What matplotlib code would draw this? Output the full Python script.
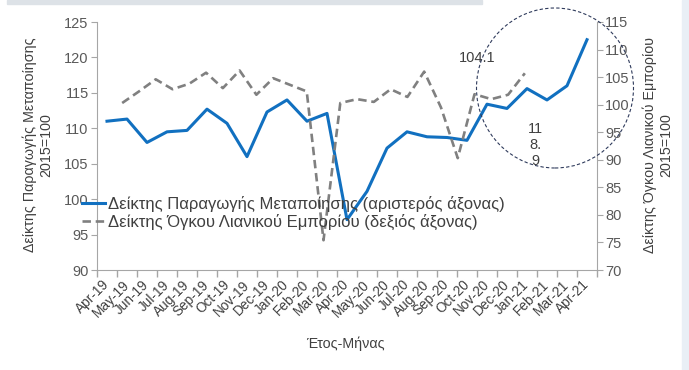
import numpy as np
import matplotlib.pyplot as plt
from matplotlib.patches import Ellipse, Rectangle

plt.rcParams['font.family'] = ['Liberation Sans', 'DejaVu Sans']

# κατηγορίες (μήνες)
months = ['Apr-19', 'May-19', 'Jun-19', 'Jul-19', 'Aug-19', 'Sep-19', 'Oct-19',
          'Nov-19', 'Dec-19', 'Jan-20', 'Feb-20', 'Mar-20', 'Apr-20', 'May-20',
          'Jun-20', 'Jul-20', 'Aug-20', 'Sep-20', 'Oct-20', 'Nov-20', 'Dec-20',
          'Jan-21', 'Feb-21', 'Mar-21', 'Apr-21']

# Δείκτης Παραγωγής Μεταποίησης (αριστερός άξονας)
manufacturing = [111.0, 111.3, 108.0, 109.5, 109.7, 112.7, 110.7, 106.0, 112.3,
                 114.0, 111.0, 112.1, 97.1, 101.1, 107.2, 109.5, 108.8, 108.7,
                 108.3, 113.4, 112.8, 115.6, 114.0, 116.0, 122.5]

# Δείκτης Όγκου Λιανικού Εμπορίου (δεξιός άξονας) - σε δευτερεύοντα άξονα κατηγοριών
retail = [np.nan, 100.3, 102.4, 104.6, 102.8, 103.8, 105.8, 103.0, 106.2, 101.8,
          104.8, 103.6, 102.4, 75.4, 100.3, 101.0, 100.5, 102.8, 101.4, 106.0,
          99.5, 90.3, 101.9, 101.0, 101.8, 105.7]

left_ticks = [90, 95, 100, 105, 110, 115, 120, 125]
right_ticks = [70, 75, 80, 85, 90, 95, 100, 105, 110, 115]

blue = '#1170c0'
grey = '#808080'
axis_col = '#a6a6a6'
txt_col = '#404040'

fig = plt.figure(figsize=(6.89, 3.70), dpi=100)
fig.patches.append(Rectangle((0.01, 0.99), 0.69, 0.01, transform=fig.transFigure,
                             color='#dde2e7', zorder=0))
fig.patches.append(Rectangle((0.99, 0), 0.01, 1, transform=fig.transFigure,
                             color='#e9eff6', zorder=0))

ax = fig.add_axes([97 / 689, 100 / 370, 500 / 689, 248 / 370])
ax.patch.set_alpha(0)
x = np.arange(len(months))
l1, = ax.plot(x, manufacturing, color=blue, lw=2.2, zorder=3,
              label='Δείκτης Παραγωγής Μεταποίησης (αριστερός άξονας)')
ax.set_xlim(-0.5, len(months) - 0.5)
ax.set_ylim(90, 125)
ax.set_yticks(left_ticks)
ax.set_xticks(x)
ax.set_xticklabels(months, rotation=45, ha='right', va='center',
                   rotation_mode='anchor', fontsize=9.8, color=txt_col)
ax.set_xticks(np.arange(len(months) + 1) - 0.5, minor=True)
ax.tick_params(axis='x', which='major', length=0, pad=9)
ax.tick_params(axis='x', which='minor', length=5, color=axis_col, width=1)
ax.tick_params(axis='y', length=4, color=axis_col, labelsize=10.5,
               labelcolor='#595959', pad=2)
for s in ['top', 'right']:
    ax.spines[s].set_visible(False)
for s in ['left', 'bottom']:
    ax.spines[s].set_color(axis_col)

ax2 = ax.twinx()
ax2.set_ylim(70, 115)
ax2.set_yticks(right_ticks)
ax2.tick_params(axis='y', length=4, color=axis_col, labelsize=10.5,
                labelcolor='#595959', pad=2)
for s in ['top', 'left', 'bottom']:
    ax2.spines[s].set_visible(False)
ax2.spines['right'].set_color(axis_col)

ax3 = ax2.twiny()
l2, = ax3.plot(np.arange(len(retail)), retail, color=grey, lw=1.9,
               dashes=(3.2, 1.8), zorder=2,
               label='Δείκτης Όγκου Λιανικού Εμπορίου (δεξιός άξονας)')
ax3.set_xlim(-0.5, 29.3)
ax3.set_xticks([])
for s in ax3.spines.values():
    s.set_visible(False)

fig.legend(handles=[l1, l2], loc='center left',
           bbox_to_anchor=(82 / 689, (370 - 212.7) / 370), frameon=False,
           fontsize=12, handlelength=1.35, handletextpad=0.2,
           labelspacing=0.12, borderpad=0, borderaxespad=0, labelcolor=txt_col)

fig.text(38 / 689, (370 - 145) / 370,
         'Δείκτης Παραγωγής Μεταποίησης\n2015=100', rotation=90,
         ha='center', va='center', fontsize=10.3, color=txt_col,
         multialignment='center')
fig.text(658 / 689, (370 - 145) / 370,
         'Δείκτης Όγκου Λιανικού Εμπορίου\n2015=100', rotation=90,
         ha='center', va='center', fontsize=10.3, color=txt_col,
         multialignment='center')
fig.text(345 / 689, (370 - 344) / 370, 'Έτος-Μήνας', ha='center', va='center',
         fontsize=10.3, color=txt_col)

fig.text(477 / 689, (370 - 57.5) / 370, '104.1', ha='center', va='center',
         fontsize=10.5, color=txt_col)
fig.text(535 / 689, (370 - 145) / 370, '11\n8.\n9', ha='center', va='center',
         fontsize=10.5, color=txt_col, linespacing=1.15)

fig.patches.append(Ellipse((555 / 689, (370 - 88) / 370), 157 / 689, 160 / 370,
                           transform=fig.transFigure, fill=False,
                           edgecolor='#2f3b5c', lw=0.8, ls=(0, (3, 2)),
                           zorder=5))

fig.savefig('out.png', dpi=100)
